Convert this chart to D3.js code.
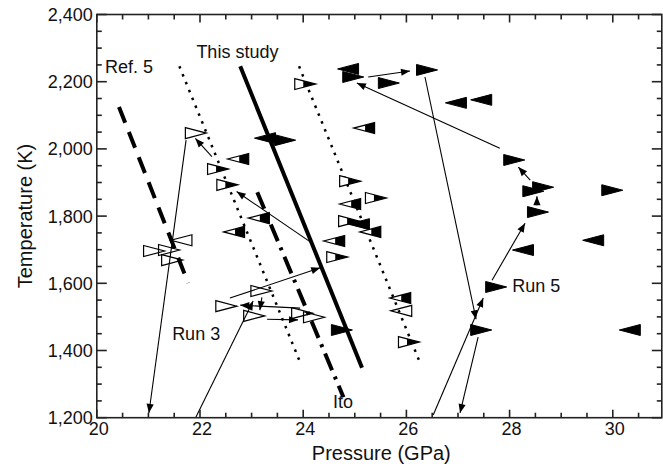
<!DOCTYPE html>
<html><head><meta charset="utf-8">
<script src="https://cdn.jsdelivr.net/npm/d3@7"></script>
<style>body{margin:0;background:#fff}svg{display:block;font-family:"Liberation Sans",Arial,Helvetica,sans-serif}</style>
</head><body><svg id="c" width="663" height="464"></svg>
<script>
// ---- data ----
const xTicks = [20, 22, 24, 26, 28, 30];
const yTicks = [1200, 1400, 1600, 1800, 2000, 2200, 2400];
const openRight = [[21.92,2047],[21.11,1696],[21.40,1699],[21.46,1669],[22.51,1532],[23.19,1577],[23.05,1503],[23.98,1511],[24.21,1499]];
const openLeft = [[21.64,1728],[25.90,1518]];
const filledRight = [[26.40,2235],[24.97,2214],[25.66,2196],[23.65,2026],[24.75,1461],[28.55,1812],[28.46,1874],[28.65,1886],[28.09,1967],[27.45,1461],[27.74,1589],[29.99,1877]];
const filledLeft = [[24.87,2238],[26.96,2137],[27.45,2146],[23.26,2032],[25.08,1776],[28.26,1699],[29.62,1728],[30.33,1461]];
const halfRight = [[24.04,2193],[22.35,1940],[22.53,1893],[24.91,1904],[25.41,1854],[24.89,1785],[24.66,1678],[26.05,1425]];
const halfLeft = [[25.18,2062],[22.74,1970],[23.14,1794],[22.66,1753],[24.91,1836],[25.30,1753],[24.60,1726],[25.88,1556]];

const ref5Line = [[20.43,2125],[21.77,1601]];
const thisStudyLine = [[22.78,2246],[25.14,1349]];
const itoLine = [[23.11,1871],[24.78,1261]];
const dottedLeft = [[21.60,2246],[23.94,1365]];
const dottedRight = [[23.92,2246],[26.26,1365]];

const run3Arrows = [
  [[21.92,1201],[23.03,1547]],
  [[23.94,1526],[22.78,1535]],
  [[23.20,1558],[23.16,1520]],
  [[23.30,1493],[23.90,1491]],
  [[22.58,1556],[24.33,1646]],
  [[24.13,1724],[22.71,1873]],
  [[22.23,1977],[21.91,2031]],
  [[21.73,2026],[21.01,1214]]
];
const run5Arrows = [
  [[26.52,1208],[27.49,1556]],
  [[27.66,1609],[28.30,1779]],
  [[28.53,1832],[28.53,1859]],
  [[28.40,1907],[28.17,1946]],
  [[27.81,2002],[25.04,2196]],
  [[25.26,2214],[26.07,2232]],
  [[26.36,2214],[27.35,1493]],
  [[27.39,1440],[27.04,1214]]
];
const labels = [
  {t:"This study", p:21.93, T:2270},
  {t:"Ref. 5", p:20.16, T:2025+200},
  {t:"Run 3", p:21.46, T:1430},
  {t:"Run 5", p:28.05, T:1575},
  {t:"Ito", p:24.58, T:1230}
];

// ---- chart ----
const svg = d3.select("#c");
const x = d3.scaleLinear().domain([20, 30.95]).range([96.8, 661.8]);
const y = d3.scaleLinear().domain([1200, 2400]).range([417.7, 14.5]);
const L = x.range()[0], R = x.range()[1], B = y.range()[0], Tp = y.range()[1];

const defs = svg.append("defs");
defs.append("marker").attr("id","ah").attr("viewBox","-10 -5 10 10")
  .attr("refX",0).attr("refY",0).attr("markerWidth",10).attr("markerHeight",10)
  .attr("markerUnits","userSpaceOnUse").attr("orient","auto")
  .append("path").attr("d","M0,0L-9,-3.6L-9,3.6Z").attr("fill","#000");

const line = d3.line().x(d=>x(d[0])).y(d=>y(d[1]));
const g = svg.append("g");
g.append("path").attr("d",line(ref5Line)).attr("stroke","#000").attr("stroke-width",4).attr("stroke-dasharray","17,10").attr("fill","none");
g.append("path").attr("d",line(thisStudyLine)).attr("stroke","#000").attr("stroke-width",4).attr("fill","none");
g.append("path").attr("d",line(itoLine)).attr("stroke","#000").attr("stroke-width",4).attr("stroke-dasharray","18,7,3,7").attr("fill","none");
[dottedLeft, dottedRight].forEach(l=>g.append("path").attr("d",line(l)).attr("stroke","#000").attr("stroke-width",2.5).attr("stroke-dasharray","2.5,6").attr("fill","none"));

run3Arrows.concat(run5Arrows).forEach(a=>{
  g.append("path").attr("d",line(a)).attr("stroke","#000").attr("stroke-width",1.1).attr("fill","none").attr("marker-end","url(#ah)");
});

const w=10.5, h=5.5;
const triR = `M${-w},${-h}L${w},0L${-w},${h}Z`;
const triL = `M${w},${-h}L${-w},0L${w},${h}Z`;
function clipR(x0, dir){ // portion of triangle with X >= x0
  if(dir>0){ const hh = h*(w-x0)/(2*w); return `M${x0},${-hh}L${w},0L${x0},${hh}Z`; }
  const hh = h*(x0+w)/(2*w); return `M${x0},${-hh}L${w},${-h}L${w},${h}L${x0},${hh}Z`;
}
function pts(arr, draw){
  arr.forEach(d=>{ const s=g.append("g").attr("transform",`translate(${x(d[0])},${y(d[1])})`); draw(s); });
}
pts(openRight, s=>s.append("path").attr("d",triR).attr("fill","none").attr("stroke","#000").attr("stroke-width",1.2));
pts(openLeft, s=>s.append("path").attr("d",triL).attr("fill","none").attr("stroke","#000").attr("stroke-width",1.2));
pts(filledRight, s=>s.append("path").attr("d",triR).attr("fill","#000").attr("stroke","#000").attr("stroke-width",1));
pts(filledLeft, s=>s.append("path").attr("d",triL).attr("fill","#000").attr("stroke","#000").attr("stroke-width",1));
pts(halfRight, s=>{ s.append("path").attr("d",triR).attr("fill","#fff").attr("stroke","#000").attr("stroke-width",1.2);
  s.append("path").attr("d",clipR(-2,1)).attr("fill","#000"); });
pts(halfLeft, s=>{ s.append("path").attr("d",triL).attr("fill","#fff").attr("stroke","#000").attr("stroke-width",1.2);
  s.append("path").attr("d",clipR(1,-1)).attr("fill","#000"); });

labels.forEach(l=>svg.append("text").attr("x",x(l.p)).attr("y",y(l.T)).attr("font-size",18).attr("fill","#111").text(l.t));

// axes box + ticks (inward)
const ax = svg.append("g").attr("stroke","#222").attr("stroke-width",1.6);
ax.append("rect").attr("x",L).attr("y",Tp).attr("width",R-L).attr("height",B-Tp).attr("fill","none");
const yMinor = d3.range(1200, 2401, 50);
yMinor.forEach(v=>{
  const major = v%200===0, len = major?10:5;
  ax.append("line").attr("x1",L).attr("x2",L+len).attr("y1",y(v)).attr("y2",y(v));
  ax.append("line").attr("x1",R).attr("x2",R-len).attr("y1",y(v)).attr("y2",y(v));
});
const xMinor = d3.range(20, 30.96, 0.5);
xMinor.forEach(v=>{
  const major = Math.abs(v%2)<1e-6, len = major?8:5;
  ax.append("line").attr("x1",x(v)).attr("x2",x(v)).attr("y1",B).attr("y2",B-len);
  ax.append("line").attr("x1",x(v)).attr("x2",x(v)).attr("y1",Tp).attr("y2",Tp+len);
});
const fmt = d3.format(",");
yTicks.forEach(v=>svg.append("text").attr("x",L-4).attr("y",y(v)+6.5).attr("text-anchor","end").attr("font-size",18).attr("fill","#111").text(fmt(v)));
xTicks.forEach(v=>svg.append("text").attr("x",x(v)+2).attr("y",435).attr("text-anchor","middle").attr("font-size",18).attr("fill","#111").text(v));
svg.append("text").attr("x",(L+R)/2+2).attr("y",460).attr("text-anchor","middle").attr("font-size",20).attr("fill","#111").text("Pressure (GPa)");
svg.append("text").attr("transform",`translate(32,216) rotate(-90)`).attr("text-anchor","middle").attr("font-size",20).attr("fill","#111").text("Temperature (K)");
</script></body></html>
